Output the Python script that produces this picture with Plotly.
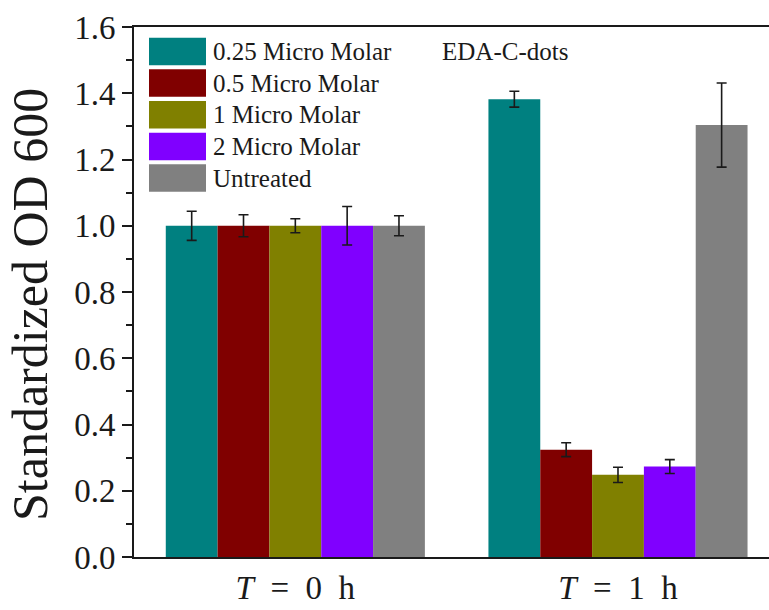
import plotly.graph_objects as go

# ---- data ----
categories = ["T0", "T1"]
tick_labels = ["<i>T</i>\u00a0\u00a0=\u00a0\u00a00\u00a0\u00a0h", "<i>T</i>\u00a0\u00a0=\u00a0\u00a01\u00a0\u00a0h"]
series_names = ["0.25 Micro Molar", "0.5 Micro Molar", "1 Micro Molar", "2 Micro Molar", "Untreated"]
series_colors = ["#008080", "#800000", "#808000", "#8000FF", "#808080"]
values_025 = [1.0, 1.382]
values_05 = [1.0, 0.324]
values_1 = [1.0, 0.248]
values_2 = [1.0, 0.273]
values_untreated = [1.0, 1.304]
err_025 = [0.044, 0.024]
err_05 = [0.033, 0.021]
err_1 = [0.021, 0.023]
err_2 = [0.058, 0.021]
err_untreated = [0.030, 0.127]
y_ticks = [0.0, 0.2, 0.4, 0.6, 0.8, 1.0, 1.2, 1.4, 1.6]
y_title = "Standardized OD 600"
annotation_text = "EDA-C-dots"

series_values = [values_025, values_05, values_1, values_2, values_untreated]
series_errs = [err_025, err_05, err_1, err_2, err_untreated]

FONT = "Liberation Serif"
W, H = 769, 610
L, T, B, R = 134, 27, 53, 0
PW, PH = W - L - R, H - T - B

fig = go.Figure()
for name, color, vals, errs in zip(series_names, series_colors, series_values, series_errs):
    fig.add_trace(go.Bar(
        x=[0, 1], y=vals, name=name,
        marker=dict(color=color, line=dict(width=0)),
        error_y=dict(type="data", array=errs, visible=True,
                     color="#1a1a1a", thickness=1.6, width=5),
        showlegend=False,
    ))

# manual legend (large swatches as in reference)
def px_x(px):
    return (px - L) / PW

def px_y(py):
    return (H - B - py) / PH

shapes = []
annotations = []
for i, (name, color) in enumerate(zip(series_names, series_colors)):
    top = 37.7 + 31.65 * i
    bot = top + 27.5
    shapes.append(dict(type="rect", xref="paper", yref="paper",
                       x0=px_x(149), x1=px_x(206), y0=px_y(bot), y1=px_y(top),
                       fillcolor=color, line=dict(width=0), layer="above"))
    annotations.append(dict(xref="paper", yref="paper", x=px_x(211), y=px_y((top + bot) / 2),
                            text=name, showarrow=False, xanchor="left", yanchor="middle",
                            font=dict(family=FONT, size=25, color="#1a1a1a")))

annotations.append(dict(xref="paper", yref="paper", x=px_x(505), y=px_y(52),
                        text=annotation_text, showarrow=False, xanchor="center", yanchor="middle",
                        font=dict(family=FONT, size=25, color="#1a1a1a")))

# y-axis title placed as rotated annotation to match reference position
annotations.append(dict(xref="paper", yref="paper", x=px_x(30), y=px_y(305),
                        text=y_title, showarrow=False, textangle=-90,
                        xanchor="center", yanchor="middle",
                        font=dict(family=FONT, size=50, color="#1a1a1a")))

fig.update_layout(
    width=W, height=H,
    margin=dict(l=L, r=R, t=T, b=B, pad=0),
    paper_bgcolor="white", plot_bgcolor="white",
    barmode="group", bargap=0.197, bargroupgap=0,
    shapes=shapes, annotations=annotations,
    font=dict(family=FONT, color="#1a1a1a"),
    xaxis=dict(
        range=[-0.5, 1.468], tickvals=[0, 1], ticktext=tick_labels,
        showline=True, linecolor="#1a1a1a", linewidth=2, mirror=True,
        ticks="", showgrid=False, zeroline=False,
        tickfont=dict(family=FONT, size=33, color="#1a1a1a"),
    ),
    yaxis=dict(
        range=[0, 1.6], tickvals=y_ticks, ticktext=[f"{v:.1f}" for v in y_ticks],
        showline=True, linecolor="#1a1a1a", linewidth=2, mirror=False,
        ticks="outside", ticklen=10, tickwidth=2, tickcolor="#1a1a1a",
        minor=dict(ticks="outside", ticklen=6, tickwidth=2, tickcolor="#1a1a1a", dtick=0.1, showgrid=False),
        showgrid=False, zeroline=False,
        tickfont=dict(family=FONT, size=33, color="#1a1a1a"),
    ),
)

fig.write_html("out.html")
